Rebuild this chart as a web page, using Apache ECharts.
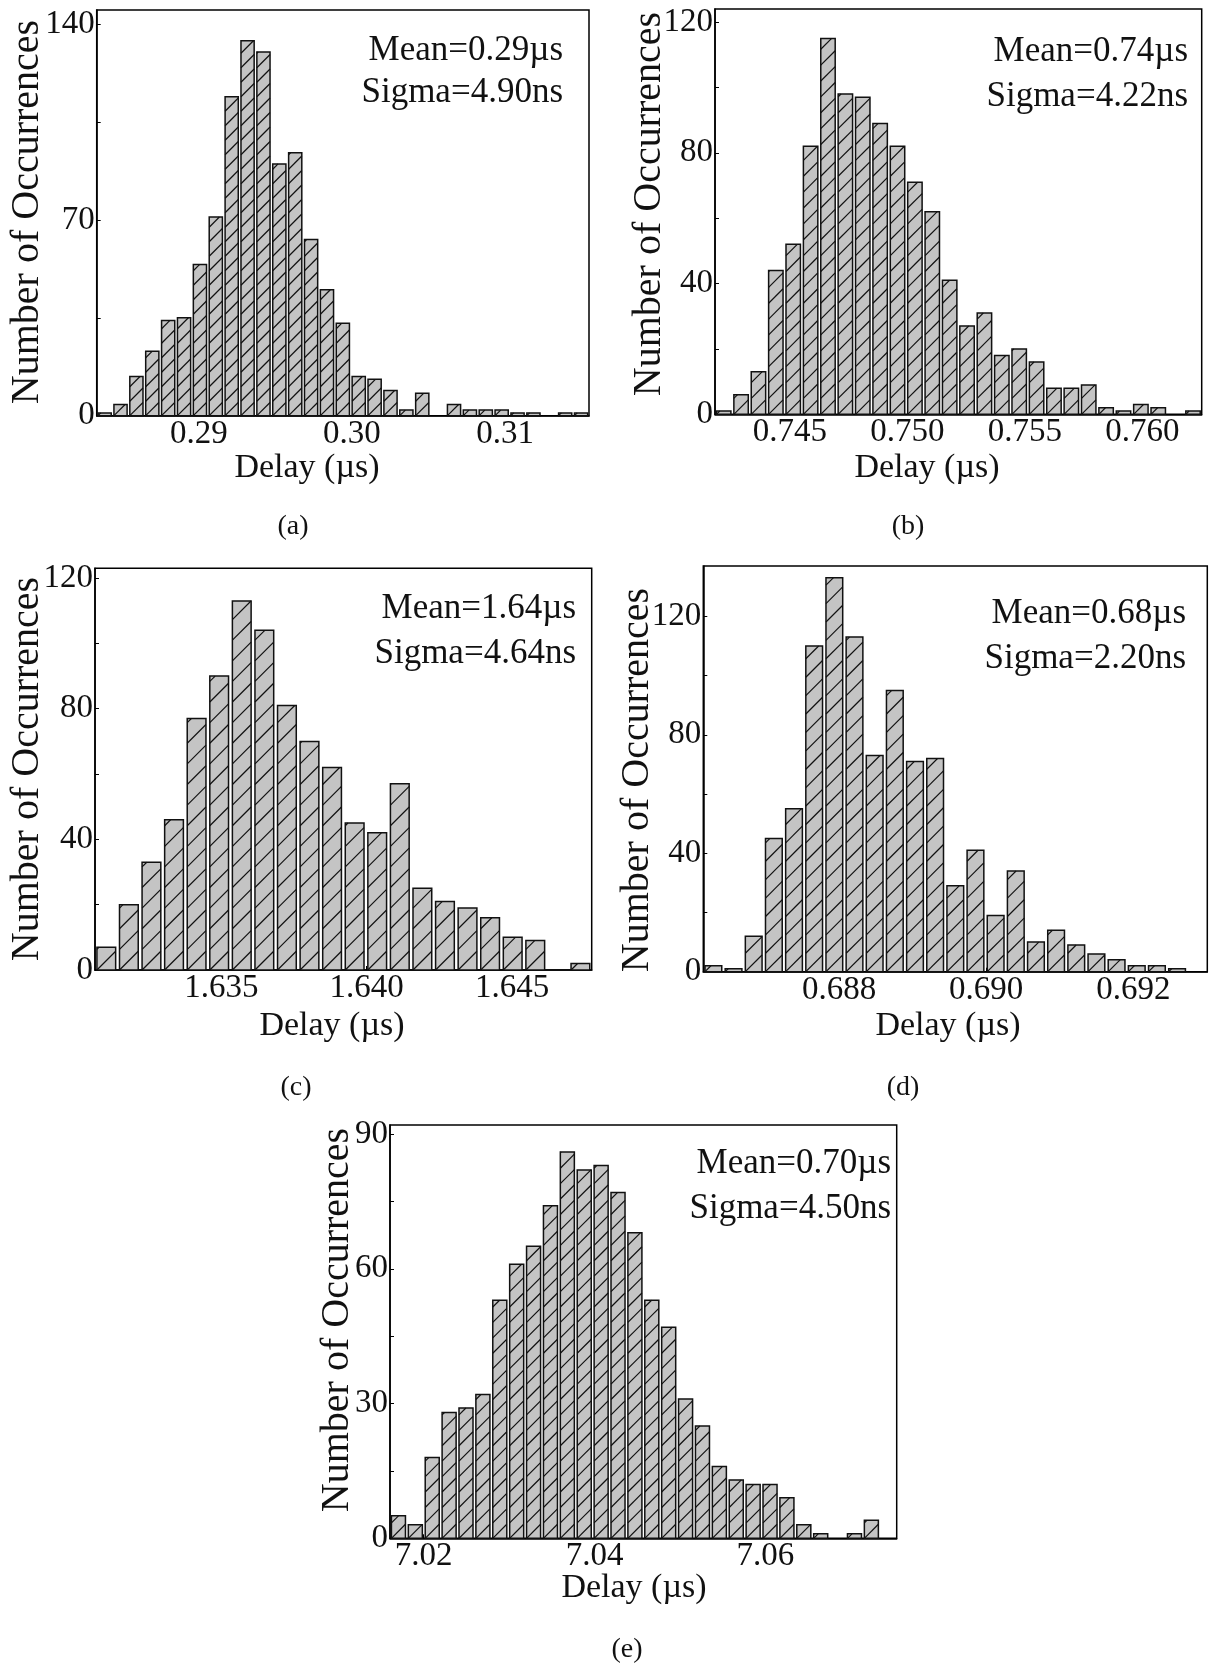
<!DOCTYPE html>
<html>
<head>
<meta charset="utf-8">
<script src="https://cdn.jsdelivr.net/npm/echarts@6/dist/echarts.min.js"></script>
<style>
  html, body { margin: 0; padding: 0; background: #fff; }
  #chart { width: 1216px; height: 1664px; }
</style>
</head>
<body>
<div id="chart"></div>
<script>
// ---------------- data ----------------
// (a)
const countsA = [1,4,14,23,34,35,54,71,114,134,130,90,94,63,45,33,14,13,9,2,8,0,4,2,2,2,1,1,0,1,1];
const binStartA = 0.28333, binWidthA = 0.001037;
const xTicksA = [0.29, 0.30, 0.31];
const yTicksA = [0, 70, 140];
const yMaxA = 145;
const statsA = ['Mean=0.29\u00b5s', 'Sigma=4.90ns'];
// (b)
const countsB = [1,6,13,44,52,82,115,98,97,89,82,71,62,41,27,31,18,20,16,8,8,9,2,1,3,2,0,1];
const binStartB = 0.74181, binWidthB = 0.000740;
const xTicksB = [0.745, 0.750, 0.755, 0.760];
const yTicksB = [0, 40, 80, 120];
const yMaxB = 124;
const statsB = ['Mean=0.74\u00b5s', 'Sigma=4.22ns'];
// (c)
const countsC = [7,20,33,46,77,90,113,104,81,70,62,45,42,57,25,21,19,16,10,9,0,2];
const binStartC = 1.63066, binWidthC = 0.000776;
const xTicksC = [1.635, 1.640, 1.645];
const yTicksC = [0, 40, 80, 120];
const yMaxC = 123;
const statsC = ['Mean=1.64\u00b5s', 'Sigma=4.64ns'];
// (d)
const countsD = [2,1,12,45,55,110,133,113,73,95,71,72,29,41,19,34,10,14,9,6,4,2,2,1,0];
const binStartD = 0.686155, binWidthD = 0.000274;
const xTicksD = [0.688, 0.690, 0.692];
const yTicksD = [0, 40, 80, 120];
const yMaxD = 137;
const statsD = ['Mean=0.68\u00b5s', 'Sigma=2.20ns'];
// (e)
const countsE = [5,3,18,28,29,32,53,61,65,74,86,82,83,77,68,53,47,31,25,16,13,12,12,9,3,1,0,1,4,0];
const binStartE = 7.01605, binWidthE = 0.001978;
const xTicksE = [7.02, 7.04, 7.06];
const yTicksE = [0, 30, 60, 90];
const yMaxE = 92;
const statsE = ['Mean=0.70\u00b5s', 'Sigma=4.50ns'];

const captions = ['(a)', '(b)', '(c)', '(d)', '(e)'];
const xTitle = 'Delay (\u00b5s)';
const yTitle = 'Number of Occurrences';

// ---------------- layout / style ----------------
const FONT = 'Liberation Serif';
const INK = '#111';
const BAR_FRAC = 0.83;
const panels = [
  { counts: countsA, start: binStartA, width: binWidthA, xt: xTicksA, dec: 2, yt: yTicksA, ymax: yMaxA, stats: statsA,
    grid: { left: 96.7, top: 10, width: 492.3, height: 405.7 },
    statX: 563, statY: [51, 93], yTitle: [27, 212], xTitle: [307, 468], cap: [293, 527] },
  { counts: countsB, start: binStartB, width: binWidthB, xt: xTicksB, dec: 3, yt: yTicksB, ymax: yMaxB, stats: statsB,
    grid: { left: 715, top: 9, width: 486.7, height: 405.3 },
    statX: 1188, statY: [52, 97], yTitle: [649, 204], xTitle: [927, 468], cap: [908, 527] },
  { counts: countsC, start: binStartC, width: binWidthC, xt: xTicksC, dec: 3, yt: yTicksC, ymax: yMaxC, stats: statsC,
    grid: { left: 95, top: 568.3, width: 496.7, height: 401.7 },
    statX: 576, statY: [609, 654], yTitle: [27, 769], xTitle: [332, 1026], cap: [296, 1088] },
  { counts: countsD, start: binStartD, width: binWidthD, xt: xTicksD, dec: 3, yt: yTicksD, ymax: yMaxD, stats: statsD,
    grid: { left: 703.3, top: 566, width: 504, height: 405.7 },
    statX: 1186, statY: [614, 659], yTitle: [637, 780], xTitle: [948, 1026], cap: [903, 1088] },
  { counts: countsE, start: binStartE, width: binWidthE, xt: xTicksE, dec: 2, yt: yTicksE, ymax: yMaxE, stats: statsE,
    grid: { left: 390, top: 1125, width: 506.7, height: 413.3 },
    statX: 891, statY: [1164, 1209], yTitle: [337, 1320], xTitle: [634, 1588], cap: [627, 1650] }
];

function renderBar(params, api) {
  const x0 = api.value(0), x1 = api.value(1), v = api.value(2);
  if (!v) return null;
  const bl = api.coord([x0, 0]);
  const tr = api.coord([x1, v]);
  const binW = tr[0] - bl[0];
  const w = binW * BAR_FRAC;
  const left = bl[0] + (binW - w) / 2;
  const top = tr[1], bottom = bl[1];
  const h = bottom - top;
  const children = [{
    type: 'rect', shape: { x: left, y: top, width: w, height: h },
    style: { fill: '#c4c4c4', stroke: null }
  }];
  const period = w * 1.1;
  for (let yb = bottom; yb > top + 0.5; yb -= period) {
    let xEnd = left + w, yEnd = yb - w;
    if (yEnd < top) { xEnd = left + (yb - top); yEnd = top; }
    children.push({
      type: 'line', shape: { x1: left, y1: yb, x2: xEnd, y2: yEnd },
      style: { stroke: '#111', lineWidth: 1.2 }
    });
  }
  children.push({
    type: 'rect', shape: { x: left, y: top, width: w, height: h },
    style: { fill: null, stroke: '#111', lineWidth: 1.5 }
  });
  return { type: 'group', children: children };
}

function halfTicks(t) {
  const out = [];
  for (let i = 0; i < t.length; i++) {
    out.push(t[i]);
    if (i < t.length - 1) out.push((t[i] + t[i + 1]) / 2);
  }
  return out;
}

const grids = [], xAxes = [], yAxes = [], series = [], graphics = [];
panels.forEach((p, i) => {
  const n = p.counts.length;
  const xmin = p.start, xmax = p.start + n * p.width;
  grids.push(Object.assign({ show: true, borderColor: '#000', borderWidth: 1.5, backgroundColor: 'transparent', containLabel: false }, p.grid));
  xAxes.push({
    type: 'value', gridIndex: i, min: xmin, max: xmax,
    splitLine: { show: false },
    axisLine: { show: true, onZero: false, lineStyle: { color: '#000', width: 1.5 } },
    axisTick: { show: true, inside: true, length: 4, customValues: p.xt, lineStyle: { color: '#000' } },
    axisLabel: {
      customValues: p.xt, margin: 2, fontFamily: FONT, fontSize: 33, color: INK,
      formatter: (val) => Number(val).toFixed(p.dec)
    }
  });
  yAxes.push({
    type: 'value', gridIndex: i, min: 0, max: p.ymax,
    splitLine: { show: false },
    axisLine: { show: true, lineStyle: { color: '#000', width: 1.5 } },
    axisTick: { show: true, inside: true, length: 4, customValues: halfTicks(p.yt), lineStyle: { color: '#000' } },
    axisLabel: { customValues: p.yt, margin: 2, fontFamily: FONT, fontSize: 33, color: INK }
  });
  const data = p.counts.map((c, k) => [p.start + k * p.width, p.start + (k + 1) * p.width, c]);
  series.push({
    type: 'custom', xAxisIndex: i, yAxisIndex: i, data: data,
    encode: { x: [0, 1], y: 2 }, renderItem: renderBar, silent: true, animation: false
  });
  p.stats.forEach((s, j) => {
    graphics.push({ type: 'text', x: p.statX, y: p.statY[j],
      style: { text: s, fontFamily: FONT, fontSize: 35, fill: INK, align: 'right', verticalAlign: 'middle' } });
  });
  graphics.push({ type: 'text', x: p.xTitle[0], y: p.xTitle[1],
    style: { text: xTitle, fontFamily: FONT, fontSize: 34, fill: INK, align: 'center', verticalAlign: 'middle' } });
  graphics.push({ type: 'text', x: p.yTitle[0], y: p.yTitle[1], rotation: Math.PI / 2,
    style: { text: yTitle, fontFamily: FONT, fontSize: 40, fill: INK, align: 'center', verticalAlign: 'middle' } });
  graphics.push({ type: 'text', x: p.cap[0], y: p.cap[1],
    style: { text: captions[i], fontFamily: FONT, fontSize: 28, fill: INK, align: 'center', verticalAlign: 'middle' } });
});

const chart = echarts.init(document.getElementById('chart'), null, { renderer: 'canvas' });
chart.setOption({
  animation: false,
  backgroundColor: '#fff',
  textStyle: { fontFamily: FONT },
  grid: grids, xAxis: xAxes, yAxis: yAxes, series: series, graphic: graphics
});
</script>
</body>
</html>
